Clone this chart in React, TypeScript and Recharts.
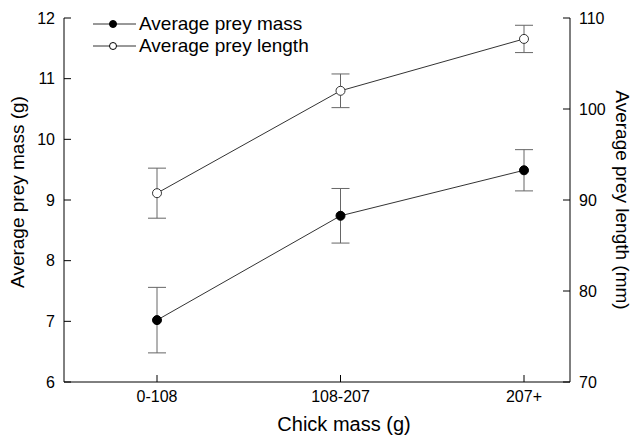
import React from 'react';
import { LineChart, Line, XAxis, YAxis, ErrorBar, Label } from 'recharts';

const groups = ['0-108', '108-207', '207+'];
const preyMass = [7.02, 8.74, 9.49];
const preyMassErr = [0.54, 0.45, 0.34];
const preyLength = [90.75, 102.0, 107.7];
const preyLengthErr = [2.75, 1.85, 1.5];

const massTicks = [6, 7, 8, 9, 10, 11, 12];
const lengthTicks = [70, 80, 90, 100, 110];

const seriesNames = ['Average prey mass', 'Average prey length'];

const data = groups.map((g, i) => ({
  group: g,
  mass: preyMass[i],
  massErr: preyMassErr[i],
  length: preyLength[i],
  lengthErr: preyLengthErr[i],
}));

const FONT = '"Liberation Sans", Arial, sans-serif';
const GAP = 9;
const TICK = 7;

function LeftTick({ x, y, payload }: any) {
  const ax = x + GAP;
  return (
    <g>
      <line x1={ax} x2={ax + TICK} y1={y} y2={y} stroke="#000" />
      <text x={x} y={y} dy="0.36em" textAnchor="end" fontSize={16} fontFamily={FONT} fill="#000">
        {payload.value}
      </text>
    </g>
  );
}

function RightTick({ x, y, payload }: any) {
  const ax = x - GAP;
  return (
    <g>
      <line x1={ax} x2={ax - TICK} y1={y} y2={y} stroke="#000" />
      <text x={x} y={y} dy="0.36em" textAnchor="start" fontSize={16} fontFamily={FONT} fill="#000">
        {payload.value}
      </text>
    </g>
  );
}

function BottomTick({ x, y, payload }: any) {
  const ay = y - GAP;
  return (
    <g>
      <line x1={x} x2={x} y1={ay} y2={ay - TICK} stroke="#000" />
      <text x={x} y={y} dy="0.68em" textAnchor="middle" fontSize={16} fontFamily={FONT} fill="#000">
        {payload.value}
      </text>
    </g>
  );
}

function LegendBox() {
  const fills = ['#000', '#fff'];
  return (
    <div
      style={{
        position: 'absolute',
        left: 91,
        top: 13,
        fontFamily: FONT,
        fontSize: 19,
        lineHeight: '22px',
        color: '#000',
      }}
    >
      {seriesNames.map((name, i) => (
        <div key={name} style={{ display: 'flex', alignItems: 'center', height: 22 }}>
          <svg width={48} height={22}>
            <line x1={2} x2={45} y1={11} y2={11} stroke="#333" />
            <circle cx={22} cy={11} r={3.5} fill={fills[i]} stroke="#000" />
          </svg>
          <span>{name}</span>
        </div>
      ))}
    </div>
  );
}

export default function App() {
  return (
    <div style={{ position: 'relative', width: 632, height: 437, background: '#fff' }}>
      <style>{`body{margin:0}`}</style>
      <LineChart width={632} height={437} data={data} margin={{ top: 18, right: 0, bottom: 10, left: 0 }}>
        <XAxis
          dataKey="group"
          type="category"
          padding={{ left: 93, right: 46 }}
          height={45}
          tickSize={0}
          tickMargin={GAP}
          tickLine={false}
          axisLine={{ stroke: '#000' }}
          tick={<BottomTick />}
          interval={0}
        >
          <Label
            content={() => (
              <text x={344} y={431} textAnchor="middle" fontSize={20} fontFamily={FONT} fill="#000">
                Chick mass (g)
              </text>
            )}
          />
        </XAxis>
        <YAxis
          yAxisId="mass"
          orientation="left"
          width={64}
          domain={[6, 12]}
          ticks={massTicks}
          tickSize={0}
          tickMargin={GAP}
          tickLine={false}
          axisLine={{ stroke: '#000' }}
          tick={<LeftTick />}
          interval={0}
        >
          <Label
            content={() => (
              <text
                x={24}
                y={192}
                transform="rotate(-90 24 192)"
                textAnchor="middle"
                fontSize={19}
                fontFamily={FONT}
                fill="#000"
              >
                Average prey mass (g)
              </text>
            )}
          />
        </YAxis>
        <YAxis
          yAxisId="length"
          orientation="right"
          width={62}
          domain={[70, 110]}
          ticks={lengthTicks}
          tickSize={0}
          tickMargin={GAP}
          tickLine={false}
          axisLine={{ stroke: '#000' }}
          tick={<RightTick />}
          interval={0}
        >
          <Label
            content={() => (
              <text
                x={616}
                y={200}
                transform="rotate(90 616 200)"
                textAnchor="middle"
                fontSize={19}
                fontFamily={FONT}
                fill="#000"
              >
                Average prey length (mm)
              </text>
            )}
          />
        </YAxis>
        <Line
          yAxisId="length"
          dataKey="length"
          name={seriesNames[1]}
          stroke="#333"
          strokeWidth={1}
          isAnimationActive={false}
          dot={{ r: 4.5, fill: '#fff', stroke: '#333', strokeWidth: 1 }}
          activeDot={false}
        >
          <ErrorBar dataKey="lengthErr" direction="y" width={9} stroke="#666" strokeWidth={1} />
        </Line>
        <Line
          yAxisId="mass"
          dataKey="mass"
          name={seriesNames[0]}
          stroke="#333"
          strokeWidth={1}
          isAnimationActive={false}
          dot={{ r: 4.5, fill: '#000', stroke: '#000', strokeWidth: 1 }}
          activeDot={false}
        >
          <ErrorBar dataKey="massErr" direction="y" width={9} stroke="#666" strokeWidth={1} />
        </Line>
      </LineChart>
      <LegendBox />
    </div>
  );
}
